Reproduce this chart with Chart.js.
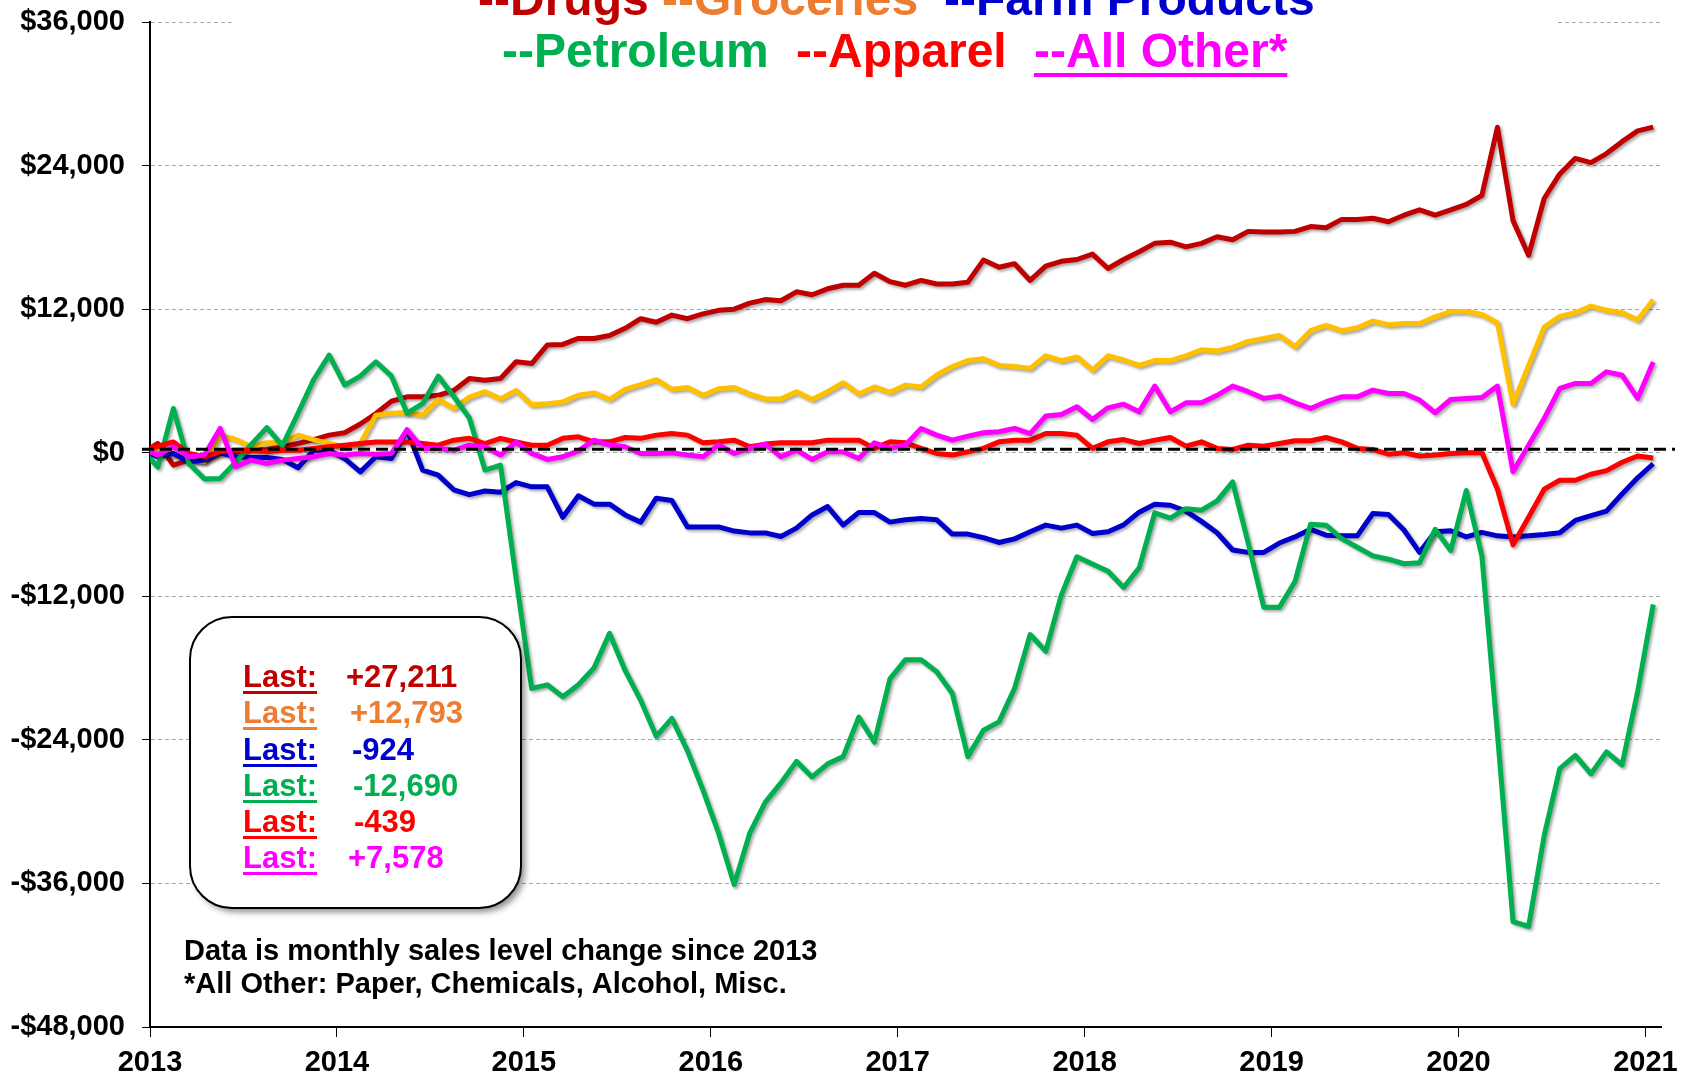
<!DOCTYPE html>
<html>
<head>
<meta charset="utf-8">
<script src="https://cdn.jsdelivr.net/npm/chart.js@4.4.1/dist/chart.umd.min.js"></script>
<style>
  html, body { margin: 0; padding: 0; background: #fff; }
  canvas { display: block; }
</style>
</head>
<body>
<canvas id="chart" width="1702" height="1076"></canvas>
<script>
// monthly sales level change since 2013 ($), first value is the Dec 2012 base point
const years = ['2013', '2014', '2015', '2016', '2017', '2018', '2019', '2020', '2021'];

const drugs = [
  0, 770, -1040, -620, -760, -60, 80, 200, 270, 500, 770, 1100, 1470, 1670, 2400, 3280, 4300, 4670, 4670, 4800,
  5200, 6200, 6050, 6200, 7600, 7450, 9000, 9050, 9550, 9550, 9800, 10400, 11200, 10900, 11500, 11200, 11600, 11900, 12000, 12500,
  12800, 12700, 13450, 13200, 13700, 14000, 14000, 15000, 14300, 14000, 14400, 14100, 14100, 14250, 16100, 15500, 15800, 14400, 15600, 16000,
  16150, 16600, 15400, 16150, 16800, 17500, 17600, 17200, 17500, 18050, 17800, 18500, 18450, 18450, 18500, 18900, 18800, 19500, 19500, 19600,
  19300, 19850, 20300, 19850, 20300, 20750, 21500, 27200, 19400, 16500, 21250, 23300, 24600, 24250, 25000, 26000, 26900, 27211
];
const groceries = [
  280, 160, -200, -560, -760, 1470, 1100, 500, 830, 830, 1470, 1100, 770, 500, 770, 3140, 3300, 3340, 3140, 4450,
  3700, 4650, 5100, 4500, 5200, 4000, 4100, 4250, 4800, 5000, 4450, 5300, 5700, 6100, 5300, 5450, 4800, 5350, 5450, 4900,
  4500, 4500, 5100, 4450, 5100, 5850, 4900, 5500, 5050, 5650, 5500, 6500, 7200, 7700, 7850, 7300, 7200, 7050, 8100, 7700,
  8000, 6900, 8100, 7750, 7300, 7700, 7700, 8100, 8600, 8500, 8800, 9300, 9550, 9800, 8850, 10200, 10650, 10200, 10450, 11000,
  10700, 10800, 10800, 11350, 11800, 11800, 11550, 10850, 4050, 7300, 10500, 11400, 11700, 12250, 11900, 11700, 11100, 12793
];
const farmProducts = [
  200, -340, -60, -760, -620, 0, -340, -400, -400, -560, -1260, 200, 200, -500, -1600, -340, -480, 1900, -1450, -1870,
  -3100, -3500, -3200, -3300, -2500, -2850, -2850, -5400, -3600, -4300, -4300, -5200, -5800, -3800, -4000, -6200, -6200, -6200, -6550, -6700,
  -6700, -7000, -6300, -5200, -4500, -6050, -5000, -5000, -5800, -5600, -5500, -5600, -6800, -6800, -7100, -7500, -7200, -6600, -6050, -6300,
  -6050, -6750, -6600, -6030, -4970, -4310, -4390, -4880, -5740, -6690, -8130, -8330, -8330, -7550, -7040, -6400, -6890, -6950, -6950, -5080,
  -5170, -6460, -8330, -6600, -6520, -7040, -6660, -6950, -7040, -6950, -6840, -6690, -5660, -5260, -4880, -3450, -2100, -924
];
const petroleum = [
  200, -1200, 3700, -900, -2200, -2150, -800, 700, 2100, 600, 3300, 6100, 8150, 5650, 6400, 7600, 6400, 3300, 4100, 6400,
  4700, 2900, -1450, -1040, -10500, -19700, -19400, -20400, -19400, -18000, -15100, -18200, -20700, -23700, -22200, -24900, -28200, -31800, -36100, -31800,
  -29200, -27600, -25800, -27100, -26000, -25400, -22100, -24200, -18900, -17300, -17300, -18300, -20100, -25400, -23200, -22500, -19700, -15200, -16600, -11900,
  -8700, -9300, -9900, -11260, -9620, -5030, -5460, -4680, -4800, -4020, -2440, -7550, -12920, -12920, -10770, -5970, -6060, -7180, -7900, -8620,
  -8900, -9280, -9200, -6400, -8180, -3160, -8620, -23500, -39200, -39600, -32000, -26400, -25300, -26850, -25000, -26100, -19970, -12690
];
const apparel = [
  150, 550, 900, -60, -340, 80, 200, 200, 80, 200, 200, 360, 500, 630, 770, 900, 900, 900, 770, 630,
  1050, 1200, 770, 1200, 900, 630, 630, 1200, 1330, 910, 910, 1270, 1200, 1470, 1600, 1470, 830, 910, 1050, 500,
  720, 830, 830, 830, 1050, 1050, 1050, 360, 910, 830, 360, -60, -200, 80, 360, 910, 1050, 1050, 1600, 1600,
  1470, 360, 910, 1100, 770, 1050, 1270, 550, 910, 360, 270, 630, 550, 770, 1000, 1000, 1270, 910, 360, 270,
  -120, 0, -280, -200, -60, 0, 20, -3050, -7700, -5400, -3050, -2300, -2300, -1800, -1500, -800, -270, -439
];
const allOther = [
  360, -200, 500, -340, -200, 2030, -1170, -620, -900, -620, -480, -340, -60, -200, -60, -120, -60, 1900, 360, 360,
  220, 630, 500, -200, 900, -60, -560, -340, 150, 1050, 640, 500, -60, -60, 0, -200, -340, 640, -60, 360,
  720, -340, 220, -560, 80, 80, -480, 830, 360, 640, 2030, 1470, 1050, 1390, 1670, 1750, 2030, 1600, 3060, 3200,
  3840, 2780, 3750, 4060, 3420, 5570, 3420, 4170, 4170, 4800, 5570, 5100, 4540, 4730, 4170, 3700, 4260, 4670, 4670, 5230,
  4950, 4950, 4400, 3340, 4450, 4540, 4620, 5570, -1600, 630, 2860, 5370, 5790, 5790, 6760, 6480, 4540, 7578
];

const lastLabels = ['+27,211', '+12,793', '-924', '-12,690', '-439', '+7,578'];
const zeroLevel = 300;

const FONT = '"Liberation Sans", Arial, Helvetica, sans-serif';

const series = [
  { name: 'Drugs', values: drugs, line: '#C00000', text: '#C00000' },
  { name: 'Groceries', values: groceries, line: '#FFC000', text: '#ED7D31' },
  { name: 'Farm Products', values: farmProducts, line: '#0000CC', text: '#0000CC' },
  { name: 'Petroleum', values: petroleum, line: '#00B050', text: '#00B050' },
  { name: 'Apparel', values: apparel, line: '#FF0000', text: '#FF0000' },
  { name: 'All Other*', values: allOther, line: '#FF00FF', text: '#FF00FF' }
];

// observations sit half a month before the month mark
const toPoints = values => values.map((v, i) => ({ x: i - 0.5, y: v }));

const money = v => (v < 0 ? '-$' : '$') + Math.abs(v).toLocaleString('en-US');

const lineShadow = {
  id: 'lineShadow',
  beforeDatasetDraw(chart) {
    const ctx = chart.ctx;
    ctx.save();
    ctx.shadowColor = 'rgba(0,0,0,0.35)';
    ctx.shadowBlur = 3;
    ctx.shadowOffsetX = 2;
    ctx.shadowOffsetY = 2;
  },
  afterDatasetDraw(chart) {
    chart.ctx.restore();
  }
};

const zeroLine = {
  id: 'zeroLine',
  afterDatasetsDraw(chart) {
    const { ctx, chartArea, scales } = chart;
    const y = scales.y.getPixelForValue(zeroLevel);
    ctx.save();
    ctx.strokeStyle = '#000';
    ctx.lineWidth = 3;
    ctx.setLineDash([12, 6]);
    ctx.beginPath();
    ctx.moveTo(chartArea.left - 8, y);
    ctx.lineTo(chartArea.right + 14, y);
    ctx.stroke();
    ctx.restore();
  }
};

const annotations = {
  id: 'annotations',
  afterDraw(chart) {
    const ctx = chart.ctx;
    ctx.save();

    // title block covers the top gridline
    ctx.fillStyle = '#fff';
    ctx.fillRect(233, 0, 1323, 80);

    ctx.font = 'bold 48px ' + FONT;
    ctx.textAlign = 'left';
    ctx.textBaseline = 'alphabetic';
    const rows = [
      { y: 15, items: [[0, 478], [1, 662], [2, 944]] },
      { y: 67, items: [[3, 502], [4, 796], [5, 1034]] }
    ];
    rows.forEach(row => {
      row.items.forEach(([k, x]) => {
        const s = series[k];
        const txt = '--' + s.name;
        ctx.fillStyle = s.text;
        ctx.fillText(txt, x, row.y);
        if (k === 5) {
          ctx.fillRect(x, row.y + 6, ctx.measureText(txt).width, 4);
        }
      });
    });

    // last value box
    ctx.save();
    ctx.shadowColor = 'rgba(0,0,0,0.45)';
    ctx.shadowBlur = 6;
    ctx.shadowOffsetX = 4;
    ctx.shadowOffsetY = 4;
    ctx.beginPath();
    ctx.roundRect(190, 617, 331, 291, 42);
    ctx.fillStyle = '#fff';
    ctx.fill();
    ctx.restore();
    ctx.beginPath();
    ctx.roundRect(190, 617, 331, 291, 42);
    ctx.strokeStyle = '#000';
    ctx.lineWidth = 2;
    ctx.stroke();

    ctx.font = 'bold 31px ' + FONT;
    const baselines = [687, 723, 760, 796, 832, 868];
    const valueX = [346, 350, 352, 353, 354, 348];
    series.forEach((s, k) => {
      ctx.fillStyle = s.text;
      ctx.fillText('Last:', 243, baselines[k]);
      ctx.fillRect(243, baselines[k] + 4, ctx.measureText('Last:').width, 3);
      ctx.fillText(lastLabels[k], valueX[k], baselines[k]);
    });

    // footnote
    ctx.fillStyle = '#000';
    ctx.font = 'bold 29px ' + FONT;
    ctx.fillText('Data is monthly sales level change since 2013', 184, 960);
    ctx.fillText('*All Other: Paper, Chemicals, Alcohol, Misc.', 184, 993);

    ctx.restore();
  }
};

new Chart(document.getElementById('chart'), {
  type: 'line',
  data: {
    datasets: series.map((s, k) => ({
      label: s.name,
      data: toPoints(s.values),
      borderColor: s.line,
      backgroundColor: s.line,
      borderWidth: 5,
      borderJoinStyle: 'round',
      pointRadius: 0,
      tension: 0,
      fill: false,
      clip: 0,
      order: series.length - k
    }))
  },
  options: {
    responsive: false,
    animation: false,
    devicePixelRatio: 1,
    layout: { padding: { left: 0, right: 41, top: 22, bottom: 0 } },
    plugins: {
      legend: { display: false },
      tooltip: { enabled: false }
    },
    scales: {
      x: {
        type: 'linear',
        min: 0,
        max: 97,
        afterBuildTicks: scale => {
          scale.ticks = years.map((y, k) => ({ value: k * 12 }));
        },
        afterFit: scale => { scale.height = 49; },
        ticks: {
          callback: (value, index) => years[index],
          color: '#000',
          font: { family: FONT, size: 29, weight: 'bold' },
          padding: 9,
          maxRotation: 0,
          autoSkip: false
        },
        grid: {
          drawOnChartArea: false,
          drawTicks: true,
          tickLength: 10,
          tickColor: '#000',
          tickWidth: 1
        },
        border: { color: '#000', width: 2 }
      },
      y: {
        min: -48000,
        max: 36000,
        afterFit: scale => {
          scale.width = 150;
          scale.paddingTop = 0;
          scale.paddingBottom = 0;
        },
        ticks: {
          stepSize: 12000,
          callback: v => money(v),
          color: '#000',
          font: { family: FONT, size: 29, weight: 'bold' },
          padding: 17
        },
        grid: {
          color: '#A6A6A6',
          lineWidth: 1,
          drawTicks: true,
          tickLength: 8,
          tickColor: '#000',
          tickWidth: 1
        },
        border: { color: '#000', width: 2, dash: [4, 3] }
      }
    }
  },
  plugins: [lineShadow, zeroLine, annotations]
});
</script>
</body>
</html>
